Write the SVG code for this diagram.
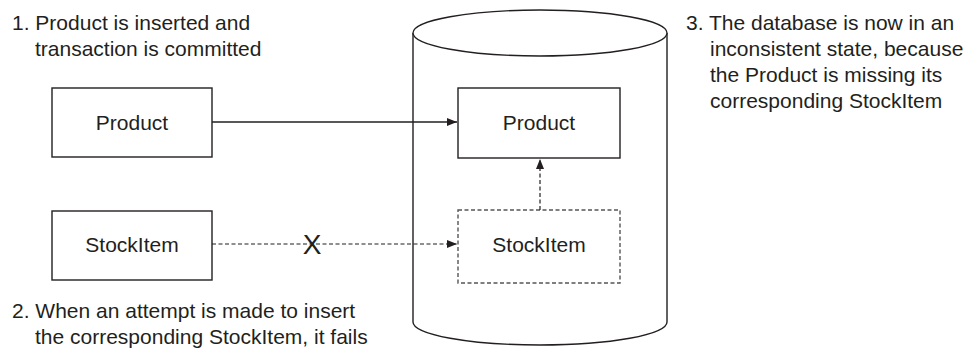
<svg xmlns="http://www.w3.org/2000/svg" width="978" height="348" viewBox="0 0 978 348">
<style>
text{font-family:"Liberation Sans",Arial,sans-serif;font-size:21px;fill:#231f20}
.box{fill:#fff;stroke:#231f20;stroke-width:1.4}
.dbox{fill:#fff;stroke:#555;stroke-width:1.4;stroke-dasharray:4 2.5}
.line{fill:none;stroke:#231f20;stroke-width:1.3}
.dash{fill:none;stroke:#231f20;stroke-width:1.2;stroke-dasharray:4 2.5}
.cyl{fill:#fff;stroke:#231f20;stroke-width:1.4}
</style>
<defs>
<marker id="ah" viewBox="0 0 10 8" refX="10" refY="4" markerWidth="10" markerHeight="8" markerUnits="userSpaceOnUse" orient="auto">
<path d="M0,0 L10,4 L0,8 Z" fill="#231f20"/>
</marker>
</defs>
<g id="database">
<path class="cyl" d="M413,33 L413,322 A127,23 0 0 0 667,322 L667,33"/>
<ellipse class="cyl" cx="540" cy="33" rx="127" ry="23"/>
</g>
<g id="note1">
<text x="12" y="30">1. Product is inserted and</text>
<text x="35" y="56">transaction is committed</text>
</g>
<g id="note2">
<text x="12" y="318">2. When an attempt is made to insert</text>
<text x="35" y="344">the corresponding StockItem, it fails</text>
</g>
<g id="note3">
<text x="686" y="30">3. The database is now in an</text>
<text x="710" y="56">inconsistent state, because</text>
<text x="710" y="82">the Product is missing its</text>
<text x="710" y="108">corresponding StockItem</text>
</g>
<g id="product-src">
<rect class="box" x="52" y="88" width="160" height="69"/>
<text x="132" y="130" text-anchor="middle">Product</text>
</g>
<g id="stockitem-src">
<rect class="box" x="52" y="211" width="160" height="69"/>
<text x="132" y="252" text-anchor="middle">StockItem</text>
</g>
<g id="product-db">
<rect class="box" x="458" y="88" width="162" height="70"/>
<text x="539" y="130" text-anchor="middle">Product</text>
</g>
<g id="stockitem-db">
<rect class="dbox" x="458" y="210" width="162" height="73"/>
<text x="539" y="252" text-anchor="middle">StockItem</text>
</g>
<g id="connectors">
<line class="line" x1="212" y1="122" x2="457" y2="122" marker-end="url(#ah)"/>
<line class="dash" x1="212" y1="244" x2="457" y2="244" marker-end="url(#ah)"/>
<line class="dash" x1="540" y1="210" x2="540" y2="159" marker-end="url(#ah)"/>
<text x="312" y="254" text-anchor="middle" style="font-size:28px">X</text>
</g>
</svg>
